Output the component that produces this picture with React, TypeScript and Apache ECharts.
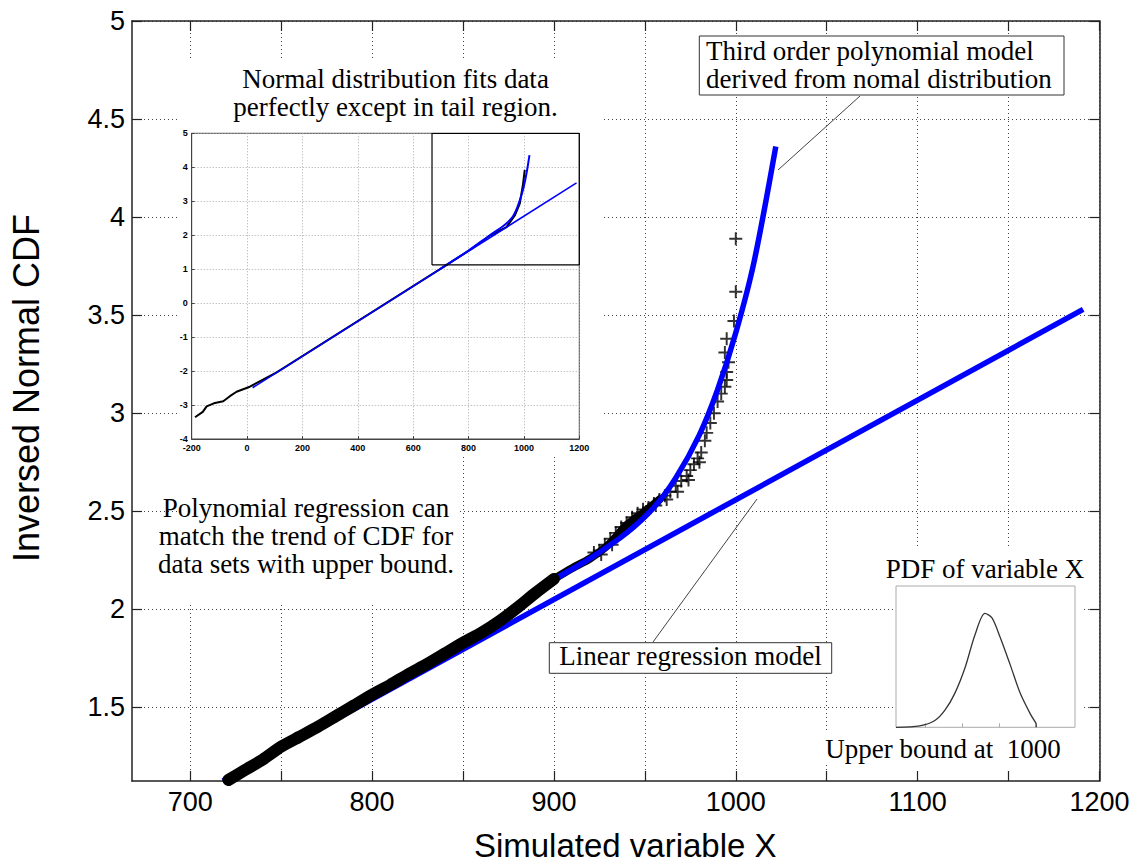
import React, { useEffect, useRef } from "react";
import * as echarts from "echarts";

// ---- main axes ----
const X_RANGE = [668, 1200];
const Y_RANGE = [1.125, 5];
const X_TICKS = [700, 750, 800, 850, 900, 950, 1000, 1050, 1100, 1150, 1200];
const X_LABELS = [700, 800, 900, 1000, 1100, 1200];
const Y_TICKS = [1.5, 2, 2.5, 3, 3.5, 4, 4.5, 5];

// dense body of the simulated sample (inverse normal CDF vs X)
const bandX = [721, 730, 740, 750, 760, 770, 780, 790, 800, 810, 820, 830, 840, 850, 860, 870, 880, 890, 900];
const bandY = [1.13, 1.18, 1.235, 1.3, 1.35, 1.4, 1.455, 1.51, 1.565, 1.615, 1.67, 1.72, 1.775, 1.83, 1.88, 1.94, 2.01, 2.085, 2.155];

// the band thins out as it enters the tail
const upperBandX = [900, 910, 920, 930, 940, 950, 958];
const upperBandY = [2.155, 2.21, 2.26, 2.33, 2.43, 2.5, 2.56];

// individual samples in the upper tail
const tailX = [922, 925, 926, 928, 931, 932, 934, 937, 938, 940, 943, 944, 946, 949, 950, 952, 955, 956, 958, 961, 962, 964, 967, 968, 970, 973, 974, 975, 977, 979, 980, 981, 983, 984, 986, 988, 990, 992, 994, 995, 995, 996, 994, 995, 999, 1000, 1000];
const tailY = [2.29, 2.3, 2.28, 2.33, 2.36, 2.33, 2.39, 2.42, 2.4, 2.44, 2.47, 2.45, 2.49, 2.51, 2.49, 2.52, 2.54, 2.53, 2.56, 2.58, 2.56, 2.6, 2.63, 2.6, 2.655, 2.68, 2.66, 2.71, 2.74, 2.77, 2.75, 2.8, 2.86, 2.9, 2.95, 3.0, 3.06, 3.1, 3.135, 3.17, 3.21, 3.26, 3.31, 3.38, 3.47, 3.62, 3.89];

// linear regression model
const linearX = [718, 1191];
const linearY = [1.125, 3.53];

// third order polynomial model
const polyX = [720, 760, 800, 840, 870, 900, 920, 940, 955, 967, 980, 990, 1000, 1010, 1022];
const polyY = [1.12, 1.35, 1.57, 1.78, 1.95, 2.15, 2.26, 2.39, 2.52, 2.67, 2.89, 3.12, 3.41, 3.77, 4.36];

// ---- overview inset (full range) ----
const insetDataX = [-188, -160, -146, -120, -86, -62, -38, 10, 107, 287, 480, 697, 817, 877, 937, 967, 985, 997, 1003];
const insetDataY = [-3.36, -3.2, -3.04, -2.95, -2.89, -2.74, -2.61, -2.46, -2.04, -1.11, -0.12, 1.0, 1.63, 1.99, 2.24, 2.58, 2.93, 3.52, 3.92];
const insetLinearX = [20, 1190];
const insetLinearY = [-2.49, 3.54];
const insetPolyX = [700, 800, 877, 930, 960, 975, 990, 1000, 1010, 1020];
const insetPolyY = [1.02, 1.55, 2.0, 2.3, 2.55, 2.8, 3.15, 3.45, 3.85, 4.36];

// ---- PDF sketch ----
const pdfX = [622, 686, 727, 754, 781, 808, 835, 862, 881, 903, 930, 957, 984, 1000];
const pdfY = [0, 0.013, 0.06, 0.15, 0.3, 0.52, 0.81, 1.0, 0.96, 0.79, 0.55, 0.3, 0.12, 0.035];
const PDF_BOUND = 1000;

const pts = (xs: number[], ys: number[]) => xs.map((x, i) => [x, ys[i]]);
const plain = (v: number) => String(v);

const SANS = "'Liberation Sans', Arial, sans-serif";
const SERIF = "'Liberation Serif', 'Times New Roman', serif";
const PLUS = "path://M4.25,0H5.75V4.25H10V5.75H5.75V10H4.25V5.75H0V4.25H4.25Z";

const serifText = (text: string, x: number, y: number, align = "center") => ({
  type: "text",
  x,
  y,
  z: 11,
  style: {
    text,
    font: `27px ${SERIF}`,
    lineHeight: 28,
    fill: "#000",
    textAlign: align,
    textVerticalAlign: "middle",
  },
});

const whiteRect = (x: number, y: number, width: number, height: number) => ({
  type: "rect",
  z: 1,
  shape: { x, y, width, height },
  style: { fill: "#fff" },
});

const labelBox = (x: number, y: number, width: number, height: number) => ({
  type: "rect",
  z: 10,
  shape: { x, y, width, height },
  style: { fill: "#fff", stroke: "#333", lineWidth: 1 },
});

const pointer = (x1: number, y1: number, x2: number, y2: number) => ({
  type: "line",
  z: 10,
  shape: { x1, y1, x2, y2 },
  style: { stroke: "#444", lineWidth: 1 },
});

export default function App() {
  const ref = useRef<HTMLDivElement>(null);

  useEffect(() => {
    if (!ref.current) return;
    const chart = echarts.init(ref.current, null, { renderer: "svg" });

    const mainLine = { show: true, onZero: false, lineStyle: { color: "#222", width: 1.5 } };
    const mainTick = { show: true, inside: true, length: 10, lineStyle: { color: "#222", width: 1.2 } };
    const dotted = { show: true, lineStyle: { type: [1, 3], color: "#444", width: 1 } };
    const insetLabel = { fontSize: 9, fontWeight: "bold", fontFamily: SANS, color: "#000", margin: 4, formatter: plain };

    const option: any = {
      animation: false,
      backgroundColor: "#fff",
      grid: [
        { left: 132, top: 21, right: 40.5, bottom: 85 },
        { left: 191.7, top: 133.3, width: 387.6, height: 305.7, show: true, borderColor: "#444", borderWidth: 1, z: 2 },
        { left: 896, top: 586, width: 179, height: 141.3, show: true, borderColor: "#aaa", borderWidth: 1, z: 2 },
      ],
      xAxis: [
        {
          gridIndex: 0,
          type: "value",
          position: "bottom",
          min: X_RANGE[0],
          max: X_RANGE[1],
          axisLine: mainLine,
          axisTick: { ...mainTick, customValues: X_TICKS },
          axisLabel: { customValues: X_LABELS, fontSize: 27, fontFamily: SANS, color: "#000", margin: 7, formatter: plain },
          splitLine: dotted,
          name: "Simulated variable X",
          nameLocation: "middle",
          nameGap: 48,
          nameTextStyle: { fontSize: 33, fontFamily: SANS, color: "#000", padding: [0, 0, 0, 19] },
        },
        {
          gridIndex: 0,
          type: "value",
          position: "top",
          min: X_RANGE[0],
          max: X_RANGE[1],
          axisLine: mainLine,
          axisTick: { ...mainTick, customValues: X_TICKS },
          axisLabel: { show: false },
          splitLine: { show: false },
        },
        {
          gridIndex: 1,
          type: "value",
          min: -200,
          max: 1200,
          interval: 200,
          z: 3,
          axisLine: { show: true, onZero: false, lineStyle: { color: "#444", width: 1 } },
          axisTick: { show: true, inside: true, length: 3, lineStyle: { color: "#444" } },
          axisLabel: insetLabel,
          splitLine: { show: true, lineStyle: { type: [1, 2], color: "#aaa", width: 1 } },
        },
        {
          gridIndex: 2,
          type: "value",
          min: 622,
          max: 1105,
          z: 3,
          axisLine: { show: false, onZero: false },
          axisTick: { show: true, inside: true, length: 4, customValues: [700, 800, 900, 1000], lineStyle: { color: "#aaa" } },
          axisLabel: { show: false },
          splitLine: { show: false },
        },
      ],
      yAxis: [
        {
          gridIndex: 0,
          type: "value",
          position: "left",
          min: Y_RANGE[0],
          max: Y_RANGE[1],
          axisLine: mainLine,
          axisTick: { ...mainTick, customValues: Y_TICKS },
          axisLabel: { customValues: Y_TICKS, fontSize: 27, fontFamily: SANS, color: "#000", margin: 7, formatter: plain },
          splitLine: dotted,
          name: "Inversed Normal CDF",
          nameLocation: "middle",
          nameGap: 88,
          nameTextStyle: { fontSize: 36, fontFamily: SANS, color: "#000", padding: [0, 0, 0, 26] },
        },
        {
          gridIndex: 0,
          type: "value",
          position: "right",
          min: Y_RANGE[0],
          max: Y_RANGE[1],
          axisLine: mainLine,
          axisTick: { ...mainTick, customValues: Y_TICKS },
          axisLabel: { show: false },
          splitLine: { show: false },
        },
        {
          gridIndex: 1,
          type: "value",
          min: -4,
          max: 5,
          interval: 1,
          z: 3,
          axisLine: { show: true, onZero: false, lineStyle: { color: "#444", width: 1 } },
          axisTick: { show: true, inside: true, length: 3, lineStyle: { color: "#444" } },
          axisLabel: insetLabel,
          splitLine: { show: true, lineStyle: { type: [1, 2], color: "#aaa", width: 1 } },
        },
        {
          gridIndex: 2,
          type: "value",
          min: 0,
          max: 1.24,
          z: 3,
          axisLine: { show: false, onZero: false },
          axisTick: { show: false },
          axisLabel: { show: false },
          splitLine: { show: false },
        },
      ],
      series: [
        {
          name: "Linear regression",
          type: "line",
          xAxisIndex: 0,
          yAxisIndex: 0,
          data: pts(linearX, linearY),
          symbol: "none",
          z: 2,
          lineStyle: { color: "#0000ff", width: 5.5 },
        },
        {
          name: "Samples (tail band)",
          type: "line",
          xAxisIndex: 0,
          yAxisIndex: 0,
          data: pts(upperBandX, upperBandY),
          symbol: "none",
          smooth: 0.3,
          z: 3,
          lineStyle: { color: "#000", width: 8, cap: "round", join: "round" },
        },
        {
          name: "Tail samples",
          type: "scatter",
          xAxisIndex: 0,
          yAxisIndex: 0,
          data: pts(tailX, tailY),
          symbol: PLUS,
          symbolSize: 13,
          z: 3,
          itemStyle: { color: "#000" },
        },
        {
          name: "Polynomial model",
          type: "line",
          xAxisIndex: 0,
          yAxisIndex: 0,
          data: pts(polyX, polyY),
          symbol: "none",
          smooth: 0.3,
          z: 4,
          lineStyle: { color: "#0000ff", width: 5.5 },
        },
        {
          name: "Samples",
          type: "line",
          xAxisIndex: 0,
          yAxisIndex: 0,
          data: pts(bandX, bandY),
          symbol: "none",
          smooth: 0.2,
          z: 5,
          lineStyle: { color: "#000", width: 12, cap: "round", join: "round" },
        },
        {
          name: "Overview samples",
          type: "line",
          xAxisIndex: 2,
          yAxisIndex: 2,
          data: pts(insetDataX, insetDataY),
          symbol: "none",
          z: 4,
          lineStyle: { color: "#000", width: 2 },
        },
        {
          name: "Overview linear",
          type: "line",
          xAxisIndex: 2,
          yAxisIndex: 2,
          data: pts(insetLinearX, insetLinearY),
          symbol: "none",
          z: 5,
          lineStyle: { color: "#0000ff", width: 1.6 },
        },
        {
          name: "Overview polynomial",
          type: "line",
          xAxisIndex: 2,
          yAxisIndex: 2,
          data: pts(insetPolyX, insetPolyY),
          symbol: "none",
          smooth: 0.3,
          z: 5,
          lineStyle: { color: "#0000ff", width: 2 },
        },
        {
          name: "Zoomed region",
          type: "line",
          xAxisIndex: 2,
          yAxisIndex: 2,
          data: [
            [X_RANGE[0], Y_RANGE[0]],
            [X_RANGE[1], Y_RANGE[0]],
            [X_RANGE[1], Y_RANGE[1]],
            [X_RANGE[0], Y_RANGE[1]],
            [X_RANGE[0], Y_RANGE[0]],
          ],
          symbol: "none",
          z: 6,
          lineStyle: { color: "#000", width: 1.2 },
        },
        {
          name: "PDF",
          type: "line",
          xAxisIndex: 3,
          yAxisIndex: 3,
          data: pts(pdfX, pdfY),
          symbol: "none",
          smooth: 0.3,
          z: 4,
          lineStyle: { color: "#333", width: 1.3 },
        },
        {
          name: "PDF bound",
          type: "line",
          xAxisIndex: 3,
          yAxisIndex: 3,
          data: [
            [PDF_BOUND, pdfY[pdfY.length - 1]],
            [PDF_BOUND, 0],
          ],
          symbol: "none",
          z: 4,
          lineStyle: { color: "#333", width: 1.3 },
        },
      ],
      graphic: {
        elements: [
          whiteRect(178, 58, 425, 398),
          whiteRect(178, 456, 282, 148),
          whiteRect(893, 548, 190, 222),
          whiteRect(812, 732, 90, 32),
          serifText("Normal distribution fits data\nperfectly except in tail region.", 395.5, 93),
          serifText("Polynomial regression can\nmatch the trend of CDF for\ndata sets with upper bound.", 306, 536),
          labelBox(699.3, 36, 364.7, 59),
          serifText("Third order polynomial model\nderived from nomal distribution", 706, 65.3, "left"),
          pointer(860, 96, 778, 170),
          labelBox(549.3, 642.7, 282.4, 30.6),
          serifText("Linear regression model", 690.5, 656),
          pointer(653, 642, 757, 499),
          serifText("PDF of variable X", 985, 568.5),
          serifText("Upper bound at  1000", 1060.7, 748.5, "right"),
        ],
      },
    };

    chart.setOption(option);
    return () => chart.dispose();
  }, []);

  return (
    <div
      ref={ref}
      style={{ position: "fixed", left: 0, top: 0, width: 1140, height: 867, background: "#fff" }}
    />
  );
}
